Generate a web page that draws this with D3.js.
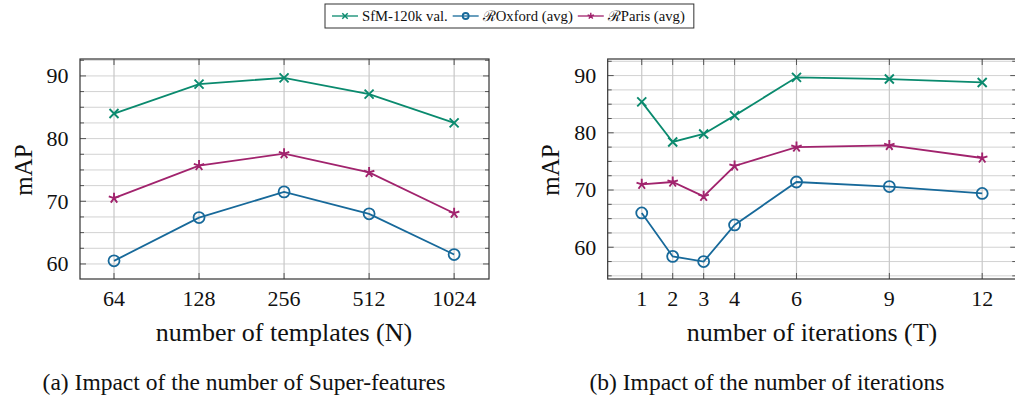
<!DOCTYPE html>
<html>
<head>
<meta charset="utf-8">
<script src="https://cdn.jsdelivr.net/npm/d3@7"></script>
<style>
  body { margin: 0; background: #fff; }
</style>
</head>
<body>
<div id="chart"></div>
<script>
// ... data
const templates = [64, 128, 256, 512, 1024];
const tmplSfm = [84.0, 88.7, 89.7, 87.1, 82.5];
const tmplOxford = [60.5, 67.4, 71.5, 68.0, 61.5];
const tmplParis = [70.5, 75.7, 77.6, 74.6, 68.1];

const iterations = [1, 2, 3, 4, 6, 9, 12];
const iterSfm = [85.4, 78.4, 79.8, 83.0, 89.7, 89.4, 88.8];
const iterOxford = [66.0, 58.4, 57.5, 63.9, 71.4, 70.6, 69.4];
const iterParis = [71.0, 71.4, 68.9, 74.2, 77.5, 77.8, 75.6];

const yTicks = [60, 70, 80, 90];
const seriesNames = ['SfM-120k val.', '\u211BOxford (avg)', '\u211BParis (avg)'];
const seriesColors = ['#0a8a6e', '#17699a', '#a1236d'];
const seriesMarks = ['cross', 'circle', 'star'];

const W = 1015, H = 396;
const FONT = '"Liberation Serif", "Times New Roman", Times, serif';

const svg = d3.select('#chart').append('svg')
    .attr('width', W)
    .attr('height', H)
    .attr('font-family', FONT);

function markerPath(kind) {
    if (kind === 'cross') {
        const s = 4.5;
        return `M${-s},${-s}L${s},${s}M${-s},${s}L${s},${-s}`;
    }
    if (kind === 'star') {
        const r = 5.5;
        let p = '';
        for (let k = 0; k < 5; k++) {
            const a = -Math.PI / 2 + k * 2 * Math.PI / 5;
            p += `M0,0L${(r * Math.cos(a)).toFixed(2)},${(r * Math.sin(a)).toFixed(2)}`;
        }
        return p;
    }
    return null;
}

function drawMarker(g, kind, color, x, y, size) {
    if (kind === 'circle') {
        g.append('circle')
            .attr('cx', x).attr('cy', y).attr('r', size || 5.5)
            .attr('fill', 'none')
            .attr('stroke', color)
            .attr('stroke-width', 1.8);
    } else {
        g.append('path')
            .attr('d', markerPath(kind))
            .attr('transform', `translate(${x},${y})` + (size ? ` scale(${size})` : ''))
            .attr('fill', 'none')
            .attr('stroke', color)
            .attr('stroke-width', size ? 1.8 / size * 0.8 : 1.9);
    }
}

function addText(g, x, y, size, str) {
    return g.append('text')
        .attr('x', x).attr('y', y)
        .attr('font-family', FONT)
        .style('font-size', size + 'px')
        .attr('fill', '#111')
        .text(str);
}

function drawPanel(cfg) {
    const x = cfg.x;
    const y = d3.scaleLinear().domain(cfg.yDomain).range([279, 59]);
    const [x0, x1] = x.range();
    const g = svg.append('g');

    // ... grid, minor every 2.5
    const minor = d3.range(55, 93, 2.5).filter(v => v > cfg.yDomain[0] && v < cfg.yDomain[1]);
    g.append('g').selectAll('line')
        .data(minor).join('line')
        .attr('x1', x0).attr('x2', x1)
        .attr('y1', d => y(d)).attr('y2', d => y(d))
        .attr('stroke', '#d2d2d2').attr('stroke-width', 1);

    g.append('g').selectAll('line')
        .data(cfg.ticks).join('line')
        .attr('x1', d => x(d)).attr('x2', d => x(d))
        .attr('y1', 59).attr('y2', 279)
        .attr('stroke', '#c8c8c8').attr('stroke-width', 1.2);

    // ... tick marks inside the frame on every side
    const tk = g.append('g').attr('stroke', '#555').attr('stroke-width', 1);
    minor.forEach(v => {
        const len = yTicks.includes(v) ? 6 : 4;
        tk.append('line').attr('x1', x0).attr('x2', x0 + len).attr('y1', y(v)).attr('y2', y(v));
        tk.append('line').attr('x1', x1).attr('x2', x1 - len).attr('y1', y(v)).attr('y2', y(v));
    });
    cfg.ticks.forEach(v => {
        tk.append('line').attr('x1', x(v)).attr('x2', x(v)).attr('y1', 279).attr('y2', 273);
        tk.append('line').attr('x1', x(v)).attr('x2', x(v)).attr('y1', 59).attr('y2', 65);
    });

    // ... frame
    g.append('rect')
        .attr('x', x0).attr('y', 59)
        .attr('width', x1 - x0).attr('height', 220)
        .attr('fill', 'none')
        .attr('stroke', '#333').attr('stroke-width', 1.2);

    // ... tick labels
    yTicks.forEach(v => {
        addText(g, x0 - 11.5, y(v), 22, v).attr('dy', '0.33em').attr('text-anchor', 'end');
    });
    cfg.ticks.forEach(v => {
        addText(g, x(v), 306, 22, v).attr('text-anchor', 'middle');
    });

    // ... series
    const line = d3.line().x(d => x(d[0])).y(d => y(d[1]));
    cfg.series.forEach((vals, i) => {
        const pts = cfg.ticks.map((t, j) => [t, vals[j]]);
        g.append('path')
            .datum(pts)
            .attr('d', line)
            .attr('fill', 'none')
            .attr('stroke', seriesColors[i])
            .attr('stroke-width', 1.8);
        pts.forEach(p => drawMarker(g, seriesMarks[i], seriesColors[i], x(p[0]), y(p[1])));
    });

    // ... axis labels and caption
    addText(g, 0, 0, 25, 'mAP')
        .attr('transform', `translate(${cfg.yLabelX},170) rotate(-90)`)
        .attr('text-anchor', 'middle')
        .attr('dy', '0.35em');

    addText(g, cfg.xLabelX, 341, 26, cfg.xLabel).attr('text-anchor', 'middle');
    addText(g, cfg.captionX, 390, 23.5, cfg.caption).attr('text-anchor', 'middle');
}

drawPanel({
    x: d3.scaleLog().base(2).domain([Math.pow(2, 5.6), Math.pow(2, 10.41)]).range([80, 489]),
    yDomain: [57.6, 92.7],
    ticks: templates,
    series: [tmplSfm, tmplOxford, tmplParis],
    yLabelX: 23,
    xLabelX: 284,
    xLabel: 'number of templates (N)',
    captionX: 244,
    caption: '(a) Impact of the number of Super-features'
});

drawPanel({
    x: d3.scaleLinear().domain([-0.1, 13.1]).range([607.7, 607.7 + 13.2 * 30.95]),
    yDomain: [54.45, 92.9],
    ticks: iterations,
    series: [iterSfm, iterOxford, iterParis],
    yLabelX: 550,
    xLabelX: 812,
    xLabel: 'number of iterations (T)',
    captionX: 767,
    caption: '(b) Impact of the number of iterations'
});

// ... legend
const legend = svg.append('g');
const lx0 = 325, ly = 16;
let cx = lx0 + 7;
seriesNames.forEach((name, i) => {
    legend.append('line')
        .attr('x1', cx).attr('x2', cx + 26)
        .attr('y1', ly).attr('y2', ly)
        .attr('stroke', seriesColors[i]).attr('stroke-width', 1.3);
    drawMarker(legend, seriesMarks[i], seriesColors[i], cx + 13, ly, seriesMarks[i] === 'circle' ? 3 : 0.6);
    const t = addText(legend, cx + 30, ly, 14.7, name).attr('dy', '0.33em');
    cx += 30 + t.node().getComputedTextLength() + 5;
});
legend.insert('rect', ':first-child')
    .attr('x', lx0).attr('y', 4)
    .attr('width', cx - lx0 + 4).attr('height', 24)
    .attr('fill', '#fff')
    .attr('stroke', '#333').attr('stroke-width', 1);
</script>
</body>
</html>
